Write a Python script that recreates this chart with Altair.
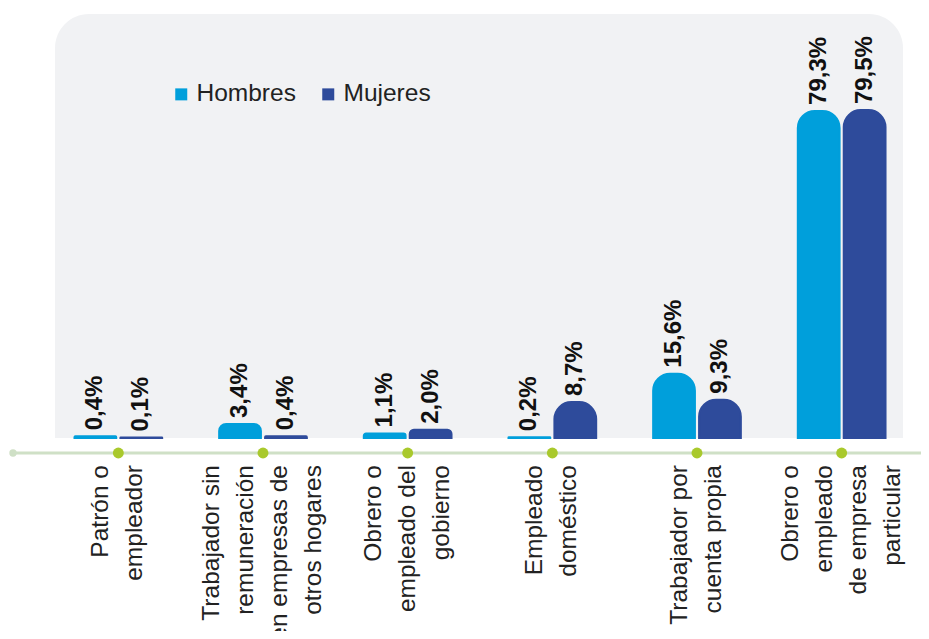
import altair as alt
import pandas as pd

categories = [
    "Patrón o\nempleador",
    "Trabajador sin\nremuneración\nen empresas de\notros hogares",
    "Obrero o\nempleado del\ngobierno",
    "Empleado\ndoméstico",
    "Trabajador por\ncuenta propia",
    "Obrero o\nempleado\nde empresa\nparticular",
]
hombres = [0.4, 3.4, 1.1, 0.2, 15.6, 79.3]
mujeres = [0.1, 0.4, 2.0, 8.7, 9.3, 79.5]
series = ["Hombres", "Mujeres"]
colors = ["#009FDB", "#2E4B9B"]

W, H = 908, 424
FONT = "Liberation Sans"
LH = 34

rows = []
for c, h, m in zip(categories, hombres, mujeres):
    rows.append({"cat": c, "series": "Hombres", "value": h})
    rows.append({"cat": c, "series": "Mujeres", "value": m})
df = pd.DataFrame(rows)
cat_df = pd.DataFrame({"cat": categories})
one = pd.DataFrame({"k": [0]})

xscale = alt.Scale(domain=categories, range=[33, 901], paddingInner=0, paddingOuter=0)
x_enc = alt.X("cat:N", scale=xscale, axis=None)
xoff = alt.XOffset("series:N", scale=alt.Scale(domain=series, paddingInner=0.09, paddingOuter=0.62))
y_enc = alt.Y("value:Q", scale=alt.Scale(domain=[0, 102.8], nice=False, zero=True), axis=None)
cscale = alt.Scale(domain=series, range=colors)

panel = alt.Chart(one).mark_rect(
    color="#F1F2F4", cornerRadiusTopLeft=34, cornerRadiusTopRight=34
).encode(x=alt.value(42), x2=alt.value(890), y=alt.value(0), y2=alt.value(H))

axis_line = alt.Chart(one).mark_rule(color="#CFE0C6", strokeWidth=3).encode(
    x=alt.value(0), x2=alt.value(W), y=alt.value(H + 15)
)
left_dot = alt.Chart(one).mark_circle(color="#CFE0C6", size=55, opacity=1).encode(
    x=alt.value(0), y=alt.value(H + 15)
)
dots = alt.Chart(cat_df).mark_circle(color="#A9C92C", size=120, opacity=1).encode(
    x=x_enc, y=alt.value(H + 15)
)

bars = alt.Chart(df).mark_bar(
    cornerRadiusTopLeft=17, cornerRadiusTopRight=17, strokeWidth=2
).encode(
    x=x_enc,
    xOffset=xoff,
    y=y_enc,
    color=alt.Color(
        "series:N",
        scale=cscale,
        legend=alt.Legend(
            title=None, orient="none", legendX=156, legendY=68, direction="horizontal",
            symbolType="square", symbolSize=144, symbolStrokeWidth=0,
            labelFontSize=24.5, labelFont=FONT, labelColor="#222222",
            columnPadding=20, labelOffset=3,
        ),
    ),
    stroke=alt.Stroke("series:N", scale=cscale, legend=None),
)

vlabels = alt.Chart(df).transform_calculate(
    label="replace(format(datum.value, '.1f'), '.', ',') + '%'"
).mark_text(
    angle=270, align="left", baseline="middle", dx=6,
    fontSize=24, fontWeight="bold", font=FONT, color="#111111",
).encode(x=x_enc, xOffset=xoff, y=y_enc, text="label:N")


def cat_layer(n):
    return alt.Chart(cat_df).transform_calculate(
        n="length(split(datum.cat, '\\n'))"
    ).transform_filter(f"datum.n == {n}").mark_text(
        angle=270, align="right", baseline="middle", lineBreak="\n",
        fontSize=24.5, lineHeight=LH, font=FONT, color="#222222",
        dy=-(n - 1) * LH / 2,
    ).encode(x=x_enc, y=alt.value(H + 27), text="cat:N")


chart = alt.layer(
    panel, axis_line, left_dot, dots, bars, vlabels, cat_layer(2), cat_layer(3), cat_layer(4)
).properties(
    width=W, height=H,
    padding={"left": 5, "top": 6, "right": 0, "bottom": 193},
    autosize="none",
    background="white",
).configure_view(stroke=None)

chart.save("out.html", embed_options={"renderer": "svg", "actions": False})
